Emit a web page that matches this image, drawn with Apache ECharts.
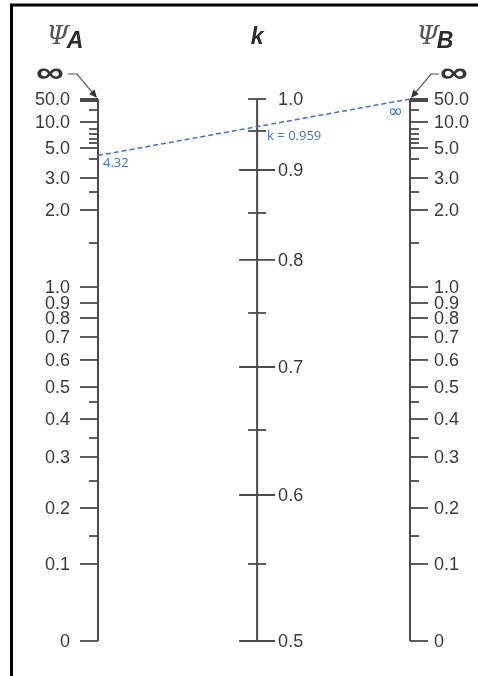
<!DOCTYPE html>
<html><head><meta charset="utf-8">
<script src="https://cdn.jsdelivr.net/npm/echarts@6/dist/echarts.min.js"></script>
<style>html,body{margin:0;padding:0;background:#fff}#c{width:478px;height:676px}</style>
</head><body><div id="c"></div>
<script>
// ---------------- data ----------------
// Ψ scale (same for ΨA and ΨB): every tick value and its height on the scale (0 = bottom, 100 = top)
const psiScaleValues  = [50, 20, 10, 9, 8, 7, 6, 5, 4, 3, 2.5, 2, 1.5, 1, 0.9, 0.8, 0.7, 0.6, 0.5, 0.45, 0.4, 0.35, 0.3, 0.25, 0.2, 0.15, 0.1, 0];
const psiScaleHeights = [100, 97.97, 95.76, 94.46, 93.54, 92.62, 91.88, 90.96, 88.93, 85.42, 82.84, 79.52, 73.43, 65.31, 62.36, 59.59, 56.09, 51.85, 46.86, 44.10, 40.96, 37.45, 33.95, 29.52, 24.54, 19.37, 14.21, 0];
const psiLabeledValues = [50, 10, 5, 3, 2, 1, 0.9, 0.8, 0.7, 0.6, 0.5, 0.4, 0.3, 0.2, 0.1, 0];
const psiMinorValues   = [20, 9, 8, 7, 6, 4, 2.5, 1.5, 0.45, 0.35, 0.25, 0.15];

// k scale
const kScaleValues  = [1.0, 0.95, 0.9, 0.85, 0.8, 0.75, 0.7, 0.65, 0.6, 0.55, 0.5];
const kScaleHeights = [100, 94.10, 86.90, 78.97, 70.30, 60.52, 50.55, 38.93, 26.94, 14.21, 0];
const kLabeledValues   = [1.0, 0.9, 0.8, 0.7, 0.6, 0.5];
const kLongTickValues  = [0.9, 0.8, 0.7, 0.6, 0.5];
const kShortTickValues = [1.0, 0.95, 0.85, 0.75, 0.65, 0.55];

// worked example
const exPsiA = 4.32;
const exPsiB = Infinity;
const exK = 0.959;

// ---------------- layout / style ----------------
const AX = {A: 0, k: 1.02, B: 2};
const INK = '#4a4a4a';
const BLUE = '#4472C4';
const SANS = 'Liberation Sans';

function table(vals, hts) { return vals.map((v, i) => [v, hts[i]]).sort((a, b) => a[0] - b[0]); }
const psiTable = table(psiScaleValues, psiScaleHeights);
const kTable = table(kScaleValues, kScaleHeights);
function heightOn(tab, v) {
  if (!isFinite(v)) return tab[tab.length - 1][1];
  for (let i = 0; i < tab.length - 1; i++) {
    const [v0, h0] = tab[i], [v1, h1] = tab[i + 1];
    if (v >= v0 && v <= v1) return h0 + (h1 - h0) * (v - v0) / (v1 - v0);
  }
  return null;
}
const psiLabel = v => v === 0 ? '0' : v.toFixed(1);

const ticks = [];
function add(x, tab, vals, kind, side, fmt) {
  vals.forEach(v => ticks.push({x, h: heightOn(tab, v), v, kind, side, label: fmt ? fmt(v) : null}));
}
add(AX.A, psiTable, psiLabeledValues, 'major', 'left', psiLabel);
add(AX.A, psiTable, psiMinorValues, 'minor', 'left');
add(AX.B, psiTable, psiLabeledValues, 'major', 'right', psiLabel);
add(AX.B, psiTable, psiMinorValues, 'minor', 'right');
add(AX.k, kTable, kLongTickValues, 'major', 'both');
add(AX.k, kTable, kShortTickValues, 'minor', 'both');
add(AX.k, kTable, kLabeledValues, 'none', 'both', v => v.toFixed(1));

const hA = heightOn(psiTable, exPsiA);
const hB = heightOn(psiTable, exPsiB);
const hK = heightOn(kTable, exK);

const chart = echarts.init(document.getElementById('c'));

function tickRender(params, api) {
  const t = ticks[params.dataIndex];
  const p = api.coord([t.x, t.h]);
  const children = [];
  if (t.kind !== 'none') {
    const len = t.kind === 'major' ? 18 : 9;
    let x1, x2;
    if (t.side === 'left') { x1 = p[0] - len; x2 = p[0]; }
    else if (t.side === 'right') { x1 = p[0]; x2 = p[0] + len; }
    else { x1 = p[0] - len; x2 = p[0] + len; }
    const thick = (t.side !== 'both' && t.v === psiLabeledValues[0]);
    const y = thick ? p[1] + 1 : p[1];
    children.push({type: 'line', shape: {x1, y1: y, x2, y2: y},
      style: {stroke: INK, lineWidth: thick ? 4 : 1.8}});
  }
  if (t.label !== null) {
    let x, align;
    if (t.side === 'left') { x = p[0] - 28; align = 'right'; }
    else if (t.side === 'right') { x = p[0] + 24; align = 'left'; }
    else { x = p[0] + 21; align = 'left'; }
    children.push({type: 'text', x, y: p[1] + 1, style: {text: t.label, fill: '#3a3a3a', align,
      verticalAlign: 'middle', fontFamily: SANS, fontSize: 18}});
  }
  return {type: 'group', children};
}

function annoRender(params, api) {
  const a = api.coord([AX.A, 100]), b = api.coord([AX.B, 100]), k = api.coord([AX.k, 100]);
  const pA = api.coord([AX.A, hA]), pB = api.coord([AX.B, hB]), pK = api.coord([AX.k, hK]);
  const T = (x, y, text, st, extra) => Object.assign({type: 'text', x, y, style: Object.assign({text, fill: '#333',
    align: 'center', verticalAlign: 'middle'}, st)}, extra || {});
  const ch = [];
  // headers
  const psiStyle = {fontFamily: 'DejaVu Serif', fontStyle: 'italic', fontSize: 26, fill: '#555'};
  const subStyle = {fontFamily: SANS, fontStyle: 'italic', fontWeight: 'bold', fontSize: 23, fill: '#2a2a2a'};
  ch.push(T(a[0] - 40, a[1] - 62, 'Ψ', psiStyle));
  ch.push(T(a[0] - 23, a[1] - 57, 'A', subStyle));
  ch.push(T(k[0], k[1] - 61, 'k', subStyle));
  ch.push(T(b[0] + 18, b[1] - 62, 'Ψ', psiStyle));
  ch.push(T(b[0] + 35, b[1] - 57, 'B', subStyle));
  // infinity markers with arrows
  const infStyle = {fontFamily: SANS, fontWeight: 'bold', fontSize: 34, fill: '#333'};
  ch.push(T(a[0] - 48, a[1] - 25, '∞', infStyle, {scaleX: 1.15, scaleY: 0.85}));
  ch.push(T(b[0] + 44, b[1] - 25, '∞', infStyle, {scaleX: 1.15, scaleY: 0.85}));
  const arrow = (pts) => {
    const tip = pts[pts.length - 1], prev = pts[pts.length - 2];
    const dx = tip[0] - prev[0], dy = tip[1] - prev[1], L = Math.hypot(dx, dy);
    const ux = dx / L, uy = dy / L, hl = 8, hw = 3.5;
    const bx = tip[0] - ux * hl, by = tip[1] - uy * hl;
    ch.push({type: 'polyline', shape: {points: pts.slice(0, -1).concat([[bx, by]])}, style: {stroke: '#555', lineWidth: 1.2, fill: null}});
    ch.push({type: 'polygon', shape: {points: [tip, [bx - uy * hw, by + ux * hw], [bx + uy * hw, by - ux * hw]]}, style: {fill: '#333'}});
  };
  arrow([[a[0] - 30, a[1] - 25], [a[0] - 21, a[1] - 25], [a[0] - 1, a[1] - 1]]);
  arrow([[b[0] + 29, b[1] - 25], [b[0] + 21, b[1] - 25], [b[0] + 1, b[1] - 1]]);
  // worked-example labels
  ch.push(T(pA[0] + 5, pA[1] + 8, String(exPsiA), {align: 'left', fill: BLUE, fontFamily: 'Open Sans', fontSize: 13}));
  ch.push(T(pK[0] + 10, pK[1] + 11, 'k = ' + exK, {align: 'left', fill: BLUE, fontFamily: 'Open Sans', fontSize: 13}));
  ch.push(T(pB[0] - 7, pB[1] + 13, '∞', {align: 'right', fill: BLUE, fontFamily: 'DejaVu Sans', fontSize: 18}));
  return {type: 'group', children: ch};
}

const spine = x => ({type: 'line', data: [[x, 0], [x, 100]], symbol: 'none', silent: true,
  lineStyle: {color: INK, width: 2}, z: 2});

chart.setOption({
  animation: false,
  backgroundColor: '#fff',
  grid: {left: 98, right: 68, top: 99, bottom: 35, containLabel: false, outerBoundsMode: 'none'},
  xAxis: {type: 'value', min: 0, max: 2, show: false},
  yAxis: {type: 'value', min: 0, max: 100, show: false},
  graphic: [
    {type: 'line', shape: {x1: 11.5, y1: 5, x2: 11.5, y2: 676}, style: {stroke: '#000', lineWidth: 3}},
    {type: 'line', shape: {x1: 10, y1: 5, x2: 478, y2: 5}, style: {stroke: '#000', lineWidth: 3}}
  ],
  series: [
    spine(AX.A), spine(AX.k), spine(AX.B),
    {type: 'custom', renderItem: tickRender, data: ticks.map(t => [t.x, t.h]), clip: false, silent: true, z: 3},
    {type: 'line', data: [[AX.A, hA], [AX.B, hB]], symbol: 'none', silent: true, z: 5,
      lineStyle: {color: BLUE, width: 1.5, type: [5, 3]}},
    {type: 'custom', renderItem: annoRender, data: [[0, 100]], clip: false, silent: true, z: 6}
  ]
});
</script></body></html>
